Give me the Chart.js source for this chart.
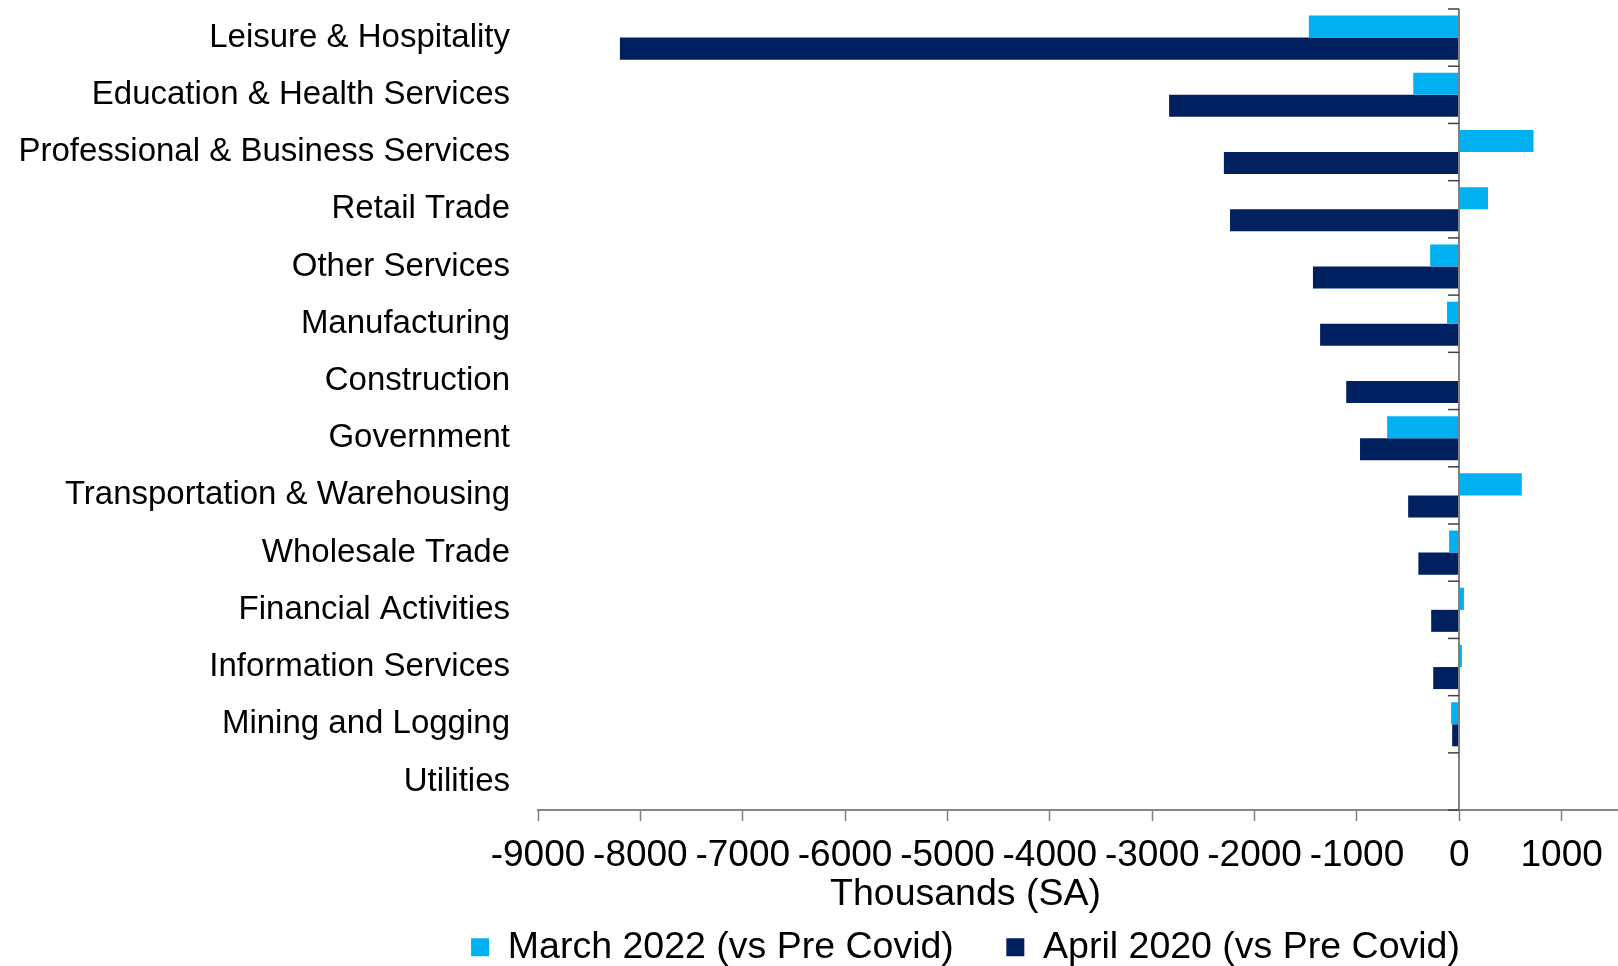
<!DOCTYPE html>
<html>
<head>
<meta charset="utf-8">
<title>Employment change by sector</title>
<script src="https://cdn.jsdelivr.net/npm/chart.js@4.4.1/dist/chart.umd.min.js"></script>
<style>
  html, body { margin: 0; padding: 0; background: #fff; }
  canvas { display: block; }
</style>
</head>
<body>
<canvas id="graficoSectores" width="1618" height="966"></canvas>
<script>
const sectors = [
  'Leisure & Hospitality',
  'Education & Health Services',
  'Professional & Business Services',
  'Retail Trade',
  'Other Services',
  'Manufacturing',
  'Construction',
  'Government',
  'Transportation & Warehousing',
  'Wholesale Trade',
  'Financial Activities',
  'Information Services',
  'Mining and Logging',
  'Utilities'
];
// thousands of jobs vs pre covid level
const march2022 = [-1470, -450, 725, 280, -285, -120, 0, -705, 610, -100, 45, 25, -80, -3];
const april2020 = [-8200, -2835, -2300, -2240, -1430, -1360, -1105, -970, -500, -400, -275, -255, -70, -1];
const xTicks = [-9000, -8000, -7000, -6000, -5000, -4000, -3000, -2000, -1000, 0, 1000];

const LEFT_PAD = 313;   // shifts legend / title to the right
const PLOT_LEFT = 538;

Chart.defaults.font.family = '"Liberation Sans", Arial, sans-serif';
Chart.defaults.color = '#000';

// vertical axis sits on zero, with short ticks between sectors
const zeroAxis = {
  id: 'zeroAxis',
  afterDatasetsDraw(chart) {
    const {ctx, chartArea, scales: {x, y}} = chart;
    const x0 = Math.round(x.getPixelForValue(0));
    const step = y.getPixelForValue(1) - y.getPixelForValue(0);
    ctx.save();
    ctx.strokeStyle = '#808080';
    ctx.lineWidth = 2;
    ctx.beginPath();
    ctx.moveTo(x0, chartArea.top);
    ctx.lineTo(x0, chartArea.bottom);
    ctx.stroke();
    ctx.strokeStyle = '#404040';
    ctx.lineWidth = 1.5;
    for (let i = 0; i <= sectors.length; i++) {
      const yy = y.getPixelForValue(i) - step / 2;
      ctx.beginPath();
      ctx.moveTo(x0 - 11, yy);
      ctx.lineTo(x0, yy);
      ctx.stroke();
    }
    ctx.restore();
  }
};

const ctx = document.getElementById('graficoSectores').getContext('2d');
const grafico = new Chart(ctx, {
  type: 'bar',
  data: {
    labels: sectors,
    datasets: [
      {
        label: 'March 2022 (vs Pre Covid)',
        data: march2022,
        backgroundColor: '#00B0F0',
        borderWidth: 0
      },
      {
        label: 'April 2020 (vs Pre Covid)',
        data: april2020,
        backgroundColor: '#002060',
        borderWidth: 0
      }
    ]
  },
  options: {
    indexAxis: 'y',
    responsive: false,
    animation: false,
    devicePixelRatio: 1,
    layout: {
      padding: { top: 9, left: LEFT_PAD, right: 0, bottom: -23.5 }
    },
    datasets: {
      bar: { categoryPercentage: 0.77, barPercentage: 1.0 }
    },
    scales: {
      x: {
        position: 'bottom',
        min: -9000,
        max: 1550,
        afterBuildTicks: (scale) => {
          scale.ticks = xTicks.map((v) => ({ value: v }));
        },
        ticks: {
          font: { size: 37 },
          padding: 12,
          maxRotation: 0,
          autoSkip: false,
          callback: (value) => String(value)
        },
        grid: {
          drawOnChartArea: false,
          tickLength: 11,
          tickColor: '#808080',
          tickWidth: 1.5
        },
        border: { color: '#868686', width: 2 }
      },
      y: {
        afterFit: (scale) => {
          // labels run past the scale box on the left, keep them unclipped
          scale.width = PLOT_LEFT - LEFT_PAD;
          scale.paddingTop = 0;
          scale.paddingBottom = 0;
          scale._computeLabelArea = () => null;
        },
        ticks: {
          font: { size: 33 },
          padding: 28,
          autoSkip: false
        },
        grid: { display: false, drawTicks: false },
        border: { display: false }
      }
    },
    plugins: {
      title: {
        display: true,
        text: 'Thousands (SA)',
        position: 'bottom',
        weight: 500,
        font: { size: 37.5, weight: 'normal' },
        color: '#000',
        padding: { top: -17, bottom: -41.5 }
      },
      legend: {
        position: 'bottom',
        labels: {
          font: { size: 37.5 },
          boxWidth: 18,
          boxHeight: 18,
          padding: 52.5
        }
      },
      tooltip: { enabled: false }
    }
  },
  plugins: [zeroAxis]
});
</script>
</body>
</html>
